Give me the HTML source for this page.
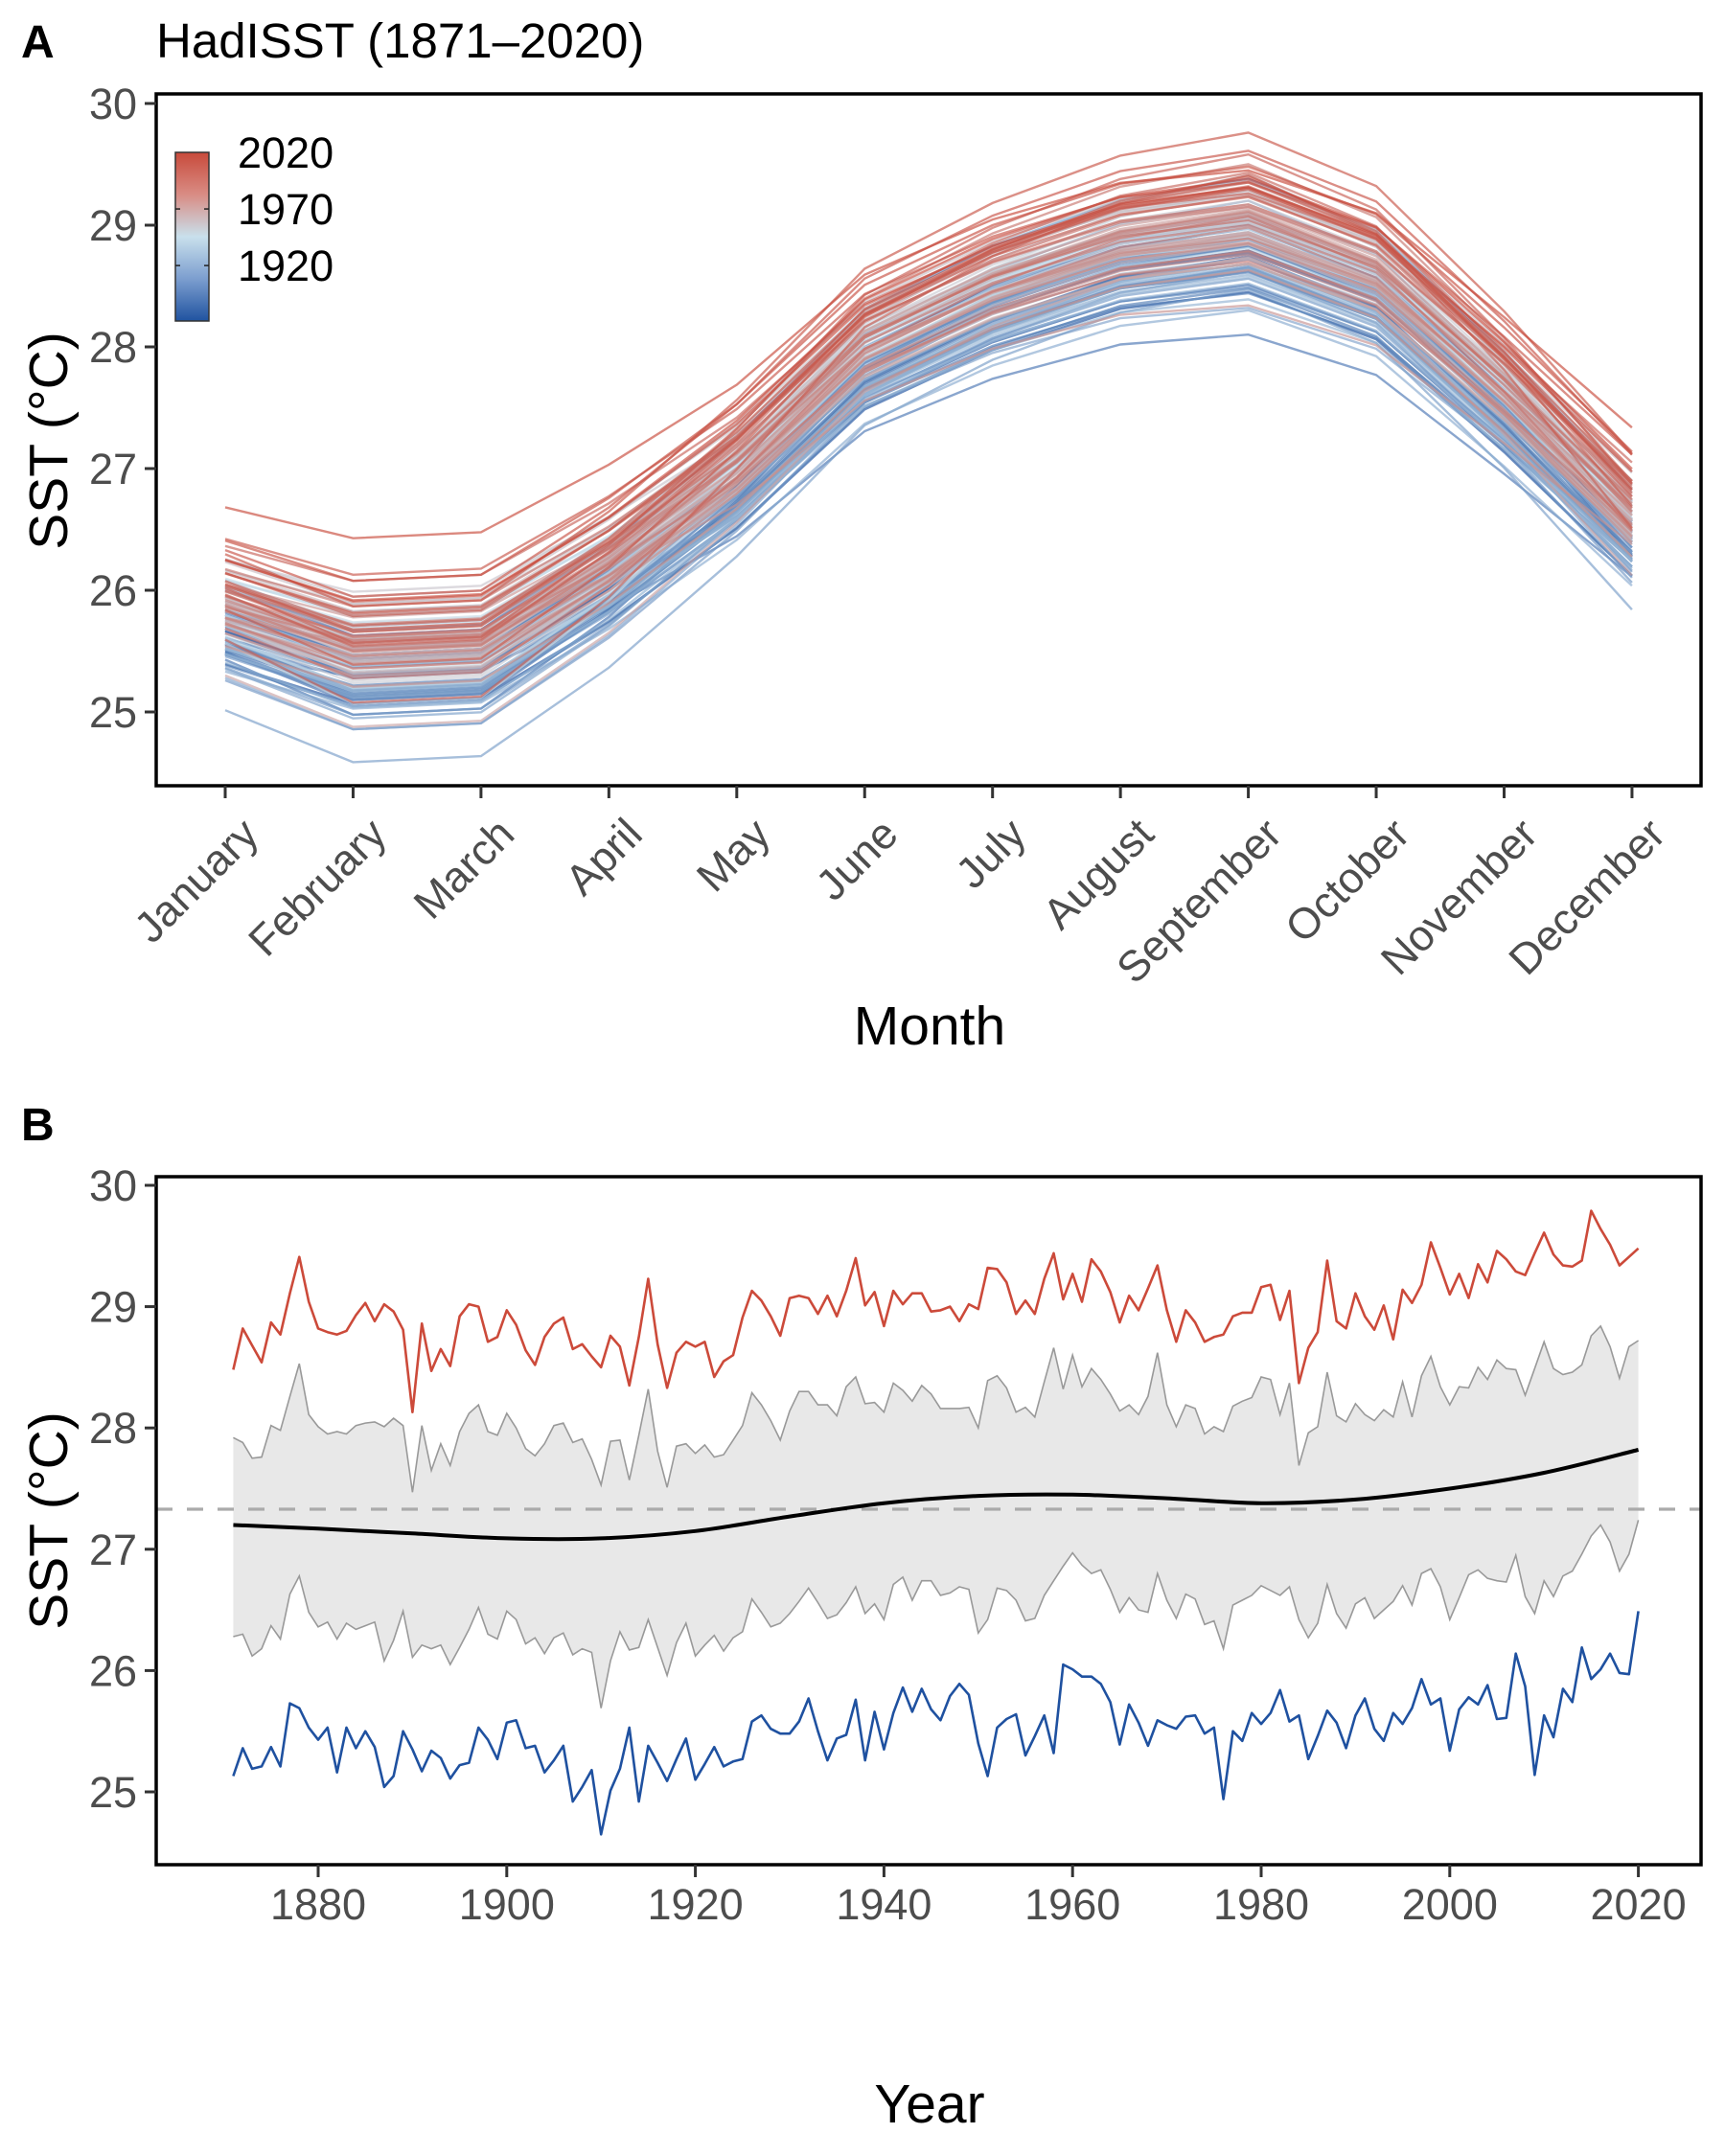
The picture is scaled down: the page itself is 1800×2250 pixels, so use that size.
<!DOCTYPE html>
<html><head><meta charset="utf-8"><style>
html,body{margin:0;padding:0;background:#fff;}
svg{display:block;font-family:"Liberation Sans",Arial,sans-serif;}
</style></head><body>
<svg id="fig" width="1800" height="2250" viewBox="0 0 1800 2250" xmlns="http://www.w3.org/2000/svg">
<defs>
<linearGradient id="cbar" x1="0" y1="1" x2="0" y2="0">
<stop offset="0" stop-color="#2053a0"/>
<stop offset="0.25" stop-color="#7c9ecf"/>
<stop offset="0.5" stop-color="#c9e0ec"/>
<stop offset="0.75" stop-color="#d98c84"/>
<stop offset="1" stop-color="#c84a3b"/>
</linearGradient>
</defs>
<g id="panelA"></g>
<g id="panelB"></g>
</svg>
<script>
const startYear = 1871;
const redMax = [28.48,28.82,28.68,28.54,28.87,28.77,29.11,29.41,29.04,28.82,28.79,28.77,28.80,28.93,29.03,28.88,29.02,28.96,28.81,28.13,28.86,28.47,28.65,28.51,28.92,29.02,29.00,28.71,28.75,28.97,28.85,28.64,28.52,28.75,28.86,28.91,28.65,28.69,28.59,28.50,28.76,28.67,28.35,28.75,29.23,28.69,28.33,28.62,28.71,28.67,28.71,28.42,
28.55,28.60,28.91,29.13,29.05,28.92,28.76,29.07,29.09,29.07,28.94,29.09,28.92,29.13,29.40,29.01,29.12,28.84,29.13,29.02,29.11,29.11,28.96,28.97,29.00,28.88,29.02,28.98,29.32,29.31,29.20,28.94,29.05,28.94,29.23,29.44,29.06,29.27,29.04,29.39,29.29,29.12,28.87,29.09,28.97,29.15,29.34,28.97,28.71,28.97,28.87,28.71,
28.75,28.77,28.92,28.95,28.95,29.16,29.18,28.89,29.13,28.37,28.66,28.79,29.38,28.88,28.82,29.11,28.92,28.81,29.01,28.73,29.14,29.03,29.18,29.53,29.32,29.10,29.27,29.07,29.35,29.20,29.46,29.39,29.29,29.26,29.44,29.61,29.43,29.34,29.33,29.38,29.79,29.64,29.51,29.34,29.41,29.48];
const bandUpper = [27.92,27.88,27.75,27.76,28.02,27.98,28.26,28.53,28.11,28.01,27.95,27.97,27.95,28.02,28.04,28.05,28.01,28.08,28.02,27.47,28.02,27.65,27.87,27.69,27.97,28.12,28.19,27.97,27.94,28.12,28.00,27.83,27.77,27.87,28.02,28.04,27.88,27.91,27.74,27.53,27.89,27.90,27.57,27.94,28.32,27.81,27.51,27.85,27.87,27.79,27.86,27.76,
27.78,27.90,28.02,28.29,28.19,28.06,27.90,28.14,28.30,28.30,28.19,28.19,28.10,28.34,28.42,28.20,28.21,28.13,28.37,28.31,28.22,28.35,28.28,28.16,28.16,28.16,28.17,28.00,28.39,28.43,28.33,28.13,28.17,28.09,28.38,28.66,28.32,28.60,28.34,28.49,28.40,28.28,28.14,28.19,28.11,28.26,28.62,28.19,28.01,28.19,28.16,27.95,
28.01,27.97,28.18,28.22,28.25,28.42,28.40,28.11,28.37,27.69,27.96,28.01,28.46,28.10,28.05,28.20,28.11,28.06,28.15,28.09,28.38,28.09,28.43,28.59,28.34,28.19,28.34,28.33,28.50,28.40,28.56,28.49,28.48,28.27,28.49,28.71,28.49,28.44,28.46,28.52,28.76,28.84,28.67,28.41,28.67,28.72];
const bandLower = [26.28,26.30,26.12,26.18,26.37,26.26,26.63,26.78,26.48,26.36,26.40,26.26,26.39,26.34,26.37,26.40,26.08,26.25,26.49,26.11,26.21,26.18,26.21,26.05,26.19,26.34,26.52,26.30,26.26,26.49,26.42,26.22,26.27,26.14,26.27,26.31,26.13,26.18,26.15,25.69,26.08,26.32,26.17,26.19,26.42,26.19,25.96,26.23,26.39,26.12,26.21,26.29,
26.16,26.27,26.32,26.59,26.48,26.36,26.39,26.47,26.57,26.68,26.56,26.43,26.46,26.56,26.69,26.47,26.55,26.42,26.71,26.77,26.58,26.74,26.74,26.62,26.64,26.69,26.67,26.31,26.42,26.68,26.66,26.58,26.41,26.43,26.62,26.74,26.86,26.97,26.87,26.80,26.83,26.67,26.48,26.60,26.50,26.48,26.80,26.58,26.43,26.63,26.59,26.38,
26.41,26.18,26.54,26.58,26.62,26.70,26.66,26.62,26.69,26.42,26.27,26.39,26.71,26.47,26.35,26.55,26.60,26.43,26.50,26.57,26.70,26.54,26.80,26.84,26.69,26.42,26.60,26.79,26.83,26.76,26.74,26.73,26.95,26.61,26.47,26.74,26.61,26.78,26.82,26.96,27.11,27.20,27.06,26.82,26.96,27.24];
const blueMin = [25.13,25.36,25.19,25.21,25.37,25.21,25.73,25.69,25.53,25.43,25.53,25.16,25.53,25.36,25.50,25.37,25.04,25.13,25.50,25.35,25.17,25.34,25.28,25.11,25.22,25.24,25.53,25.43,25.27,25.57,25.59,25.36,25.38,25.16,25.26,25.38,24.92,25.04,25.18,24.65,25.01,25.19,25.53,24.92,25.38,25.24,25.09,25.27,25.44,25.10,25.23,25.37,
25.21,25.25,25.27,25.58,25.63,25.52,25.48,25.48,25.58,25.77,25.50,25.26,25.44,25.47,25.76,25.26,25.66,25.35,25.65,25.86,25.66,25.85,25.68,25.59,25.79,25.89,25.80,25.40,25.13,25.53,25.60,25.64,25.30,25.46,25.63,25.32,26.05,26.01,25.95,25.95,25.89,25.74,25.39,25.72,25.57,25.38,25.59,25.55,25.52,25.62,25.63,25.48,
25.53,24.94,25.50,25.42,25.65,25.56,25.65,25.84,25.58,25.63,25.27,25.46,25.67,25.57,25.36,25.63,25.77,25.52,25.42,25.65,25.56,25.69,25.93,25.72,25.77,25.34,25.68,25.78,25.72,25.88,25.60,25.61,26.14,25.87,25.14,25.63,25.45,25.85,25.74,26.19,25.93,26.01,26.14,25.98,25.97,26.49];
const smoothYears = [1871,1880,1890,1900,1910,1920,1930,1940,1950,1960,1970,1980,1990,2000,2010,2020];
const smoothVals = [27.20,27.17,27.13,27.09,27.09,27.15,27.27,27.38,27.44,27.45,27.42,27.38,27.41,27.50,27.63,27.82];
const overallMean = 27.33;
const months = ["January","February","March","April","May","June","July","August","September","October","November","December"];
const monthBase = [25.8,25.45,25.5,26.15,26.95,27.95,28.45,28.8,28.95,28.55,27.6,26.55];
const monthMinWeight = [0.8,1,1,0.8,0.5,0.3,0.2,0.1,0,0.1,0.3,0.6];
const yTicks = [25,26,27,28,29,30];
const yearTicks = [1880,1900,1920,1940,1960,1980,2000,2020];
const legendTicks = [1920,1970,2020];

const NS = "http://www.w3.org/2000/svg";
function mk(parent, tag, attrs, text){
  const e = document.createElementNS(NS, tag);
  for (const k in attrs) e.setAttribute(k, attrs[k]);
  if (text !== undefined) e.textContent = text;
  parent.appendChild(e); return e;
}
const A = {l:163,r:1775,t:98,b:820};
const ax = m => 235 + m*133.45;
const ay = v => 108 + (30 - v)*127;
const B = {l:163,r:1775,t:1228,b:1946};
const bx = yr => 332 + (yr-1880)*9.84;
const by = v => 1237 + (30 - v)*126.6;

function lerpColor(c1,c2,t){return c1.map((c,i)=>Math.round(c+(c2[i]-c)*t));}
function yearColor(yr){
  const t=(yr-1871)/(2020-1871);
  const blue=[32,83,160], mid=[201,224,236], red=[200,74,59];
  const c = t<0.5 ? lerpColor(blue,mid,t/0.5) : lerpColor(mid,red,(t-0.5)/0.5);
  return `rgb(${c[0]},${c[1]},${c[2]})`;
}

// ---------- Panel A ----------
const gA = document.getElementById('panelA');
let t;
t = mk(gA,'text',{x:22,y:60,'font-size':48,'font-weight':'bold',fill:'#000'},'A');
 
t = mk(gA,'text',{x:163,y:60,'font-size':51,fill:'#000'},'HadISST (1871–2020)');
 

const redMean = redMax.reduce((a,b)=>a+b,0)/redMax.length;
const blueMean = blueMin.reduce((a,b)=>a+b,0)/blueMin.length;
const linesG = mk(gA,'g',{});
 
for (let i=0;i<redMax.length;i++){
  const yr = startYear+i;
  const pts = months.map((m,k)=>{
    const w = monthMinWeight[k];
    const v = monthBase[k] + w*(blueMin[i]-blueMean) + (1-w)*(redMax[i]-redMean);
    return ax(k).toFixed(1)+','+ay(v).toFixed(1);
  }).join(' ');
  const pl = mk(linesG,'polyline',{points:pts,fill:'none',stroke:yearColor(yr),'stroke-width':2.4,'stroke-opacity':0.65});
  
  
}
let r = mk(gA,'rect',{x:A.l,y:A.t,width:A.r-A.l,height:A.b-A.t,fill:'none',stroke:'#000','stroke-width':3.5});
 
yTicks.forEach(v=>{
  mk(gA,'line',{x1:A.l-12,x2:A.l,y1:ay(v),y2:ay(v),stroke:'#333','stroke-width':3});
  const tt = mk(gA,'text',{x:A.l-20,y:ay(v)+16,'font-size':45,fill:'#4d4d4d','text-anchor':'end'},String(v));
   
});
months.forEach((m,k)=>{
  mk(gA,'line',{x1:ax(k),x2:ax(k),y1:A.b,y2:A.b+13,stroke:'#333','stroke-width':3});
  const px=ax(k)+14, py=850;
  const tt = mk(gA,'text',{x:px,y:py,'font-size':45,fill:'#4d4d4d','text-anchor':'end','dominant-baseline':'hanging',transform:`rotate(-45 ${px} ${py})`},m);
   
});
t = mk(gA,'text',{x:970,y:1090,'font-size':57,fill:'#000','text-anchor':'middle'},'Month');
 
t = mk(gA,'text',{x:0,y:0,'font-size':57,fill:'#000','text-anchor':'middle',transform:'translate(70,460) rotate(-90)'},'SST (°C)');
 
const lg = mk(gA,'g',{});
 
const cbT=159, cbB=335, cbL=183, cbR=218;
mk(lg,'rect',{x:cbL,y:cbT,width:cbR-cbL,height:cbB-cbT,fill:'url(#cbar)',stroke:'#333','stroke-width':1.5});
const cy = yr => cbB - (yr-1871)/(2020-1871)*(cbB-cbT);
legendTicks.forEach(yr=>{
  const y=cy(yr);
  if (yr<2020){
    mk(lg,'line',{x1:cbL,x2:cbL+5,y1:y,y2:y,stroke:'#222','stroke-width':1.5});
    mk(lg,'line',{x1:cbR-5,x2:cbR,y1:y,y2:y,stroke:'#222','stroke-width':1.5});
  }
  const tt = mk(lg,'text',{x:248,y:y+16,'font-size':45,fill:'#000'},String(yr));
   
});

// ---------- Panel B ----------
const gB = document.getElementById('panelB');
t = mk(gB,'text',{x:22,y:1190,'font-size':48,'font-weight':'bold',fill:'#000'},'B');
 
const ptsOf = arr => arr.map((v,i)=>bx(startYear+i).toFixed(1)+','+by(v).toFixed(1));
const upPts = ptsOf(bandUpper), loPts = ptsOf(bandLower);
let e = mk(gB,'polygon',{points:upPts.concat(loPts.slice().reverse()).join(' '),fill:'#e8e8e8',stroke:'none'});
 
e = mk(gB,'polyline',{points:upPts.join(' '),fill:'none',stroke:'#999','stroke-width':1.6});
 
e = mk(gB,'polyline',{points:loPts.join(' '),fill:'none',stroke:'#999','stroke-width':1.6});
 
e = mk(gB,'line',{x1:B.l,x2:B.r,y1:by(overallMean),y2:by(overallMean),stroke:'#aaa','stroke-width':3.2,'stroke-dasharray':'17 15'});
 
const sp = smoothYears.map((yr,i)=>[bx(yr),by(smoothVals[i])]);
let d = 'M'+sp[0][0]+','+sp[0][1];
for (let i=0;i<sp.length-1;i++){
  const p0=sp[Math.max(0,i-1)],p1=sp[i],p2=sp[i+1],p3=sp[Math.min(sp.length-1,i+2)];
  const c1=[p1[0]+(p2[0]-p0[0])/6,p1[1]+(p2[1]-p0[1])/6];
  const c2=[p2[0]-(p3[0]-p1[0])/6,p2[1]-(p3[1]-p1[1])/6];
  d+=` C${c1[0].toFixed(1)},${c1[1].toFixed(1)} ${c2[0].toFixed(1)},${c2[1].toFixed(1)} ${p2[0].toFixed(1)},${p2[1].toFixed(1)}`;
}
e = mk(gB,'path',{d:d,fill:'none',stroke:'#000','stroke-width':4});
 
e = mk(gB,'polyline',{points:ptsOf(redMax).join(' '),fill:'none',stroke:'#cc4a3a','stroke-width':2.6,'stroke-linejoin':'round'});
 
e = mk(gB,'polyline',{points:ptsOf(blueMin).join(' '),fill:'none',stroke:'#1f51a0','stroke-width':2.6,'stroke-linejoin':'round'});
 
r = mk(gB,'rect',{x:B.l,y:B.t,width:B.r-B.l,height:B.b-B.t,fill:'none',stroke:'#000','stroke-width':3.5});
 
yTicks.forEach(v=>{
  mk(gB,'line',{x1:B.l-12,x2:B.l,y1:by(v),y2:by(v),stroke:'#333','stroke-width':3});
  const tt = mk(gB,'text',{x:B.l-20,y:by(v)+16,'font-size':45,fill:'#4d4d4d','text-anchor':'end'},String(v));
   
});
yearTicks.forEach(yr=>{
  mk(gB,'line',{x1:bx(yr),x2:bx(yr),y1:B.b,y2:B.b+13,stroke:'#333','stroke-width':3});
  const tt = mk(gB,'text',{x:bx(yr),y:2003,'font-size':45,fill:'#4d4d4d','text-anchor':'middle'},String(yr));
   
});
t = mk(gB,'text',{x:970,y:2215,'font-size':57,fill:'#000','text-anchor':'middle'},'Year');
 
t = mk(gB,'text',{x:0,y:0,'font-size':57,fill:'#000','text-anchor':'middle',transform:'translate(70,1587) rotate(-90)'},'SST (°C)');
 
</script>
</body></html>
